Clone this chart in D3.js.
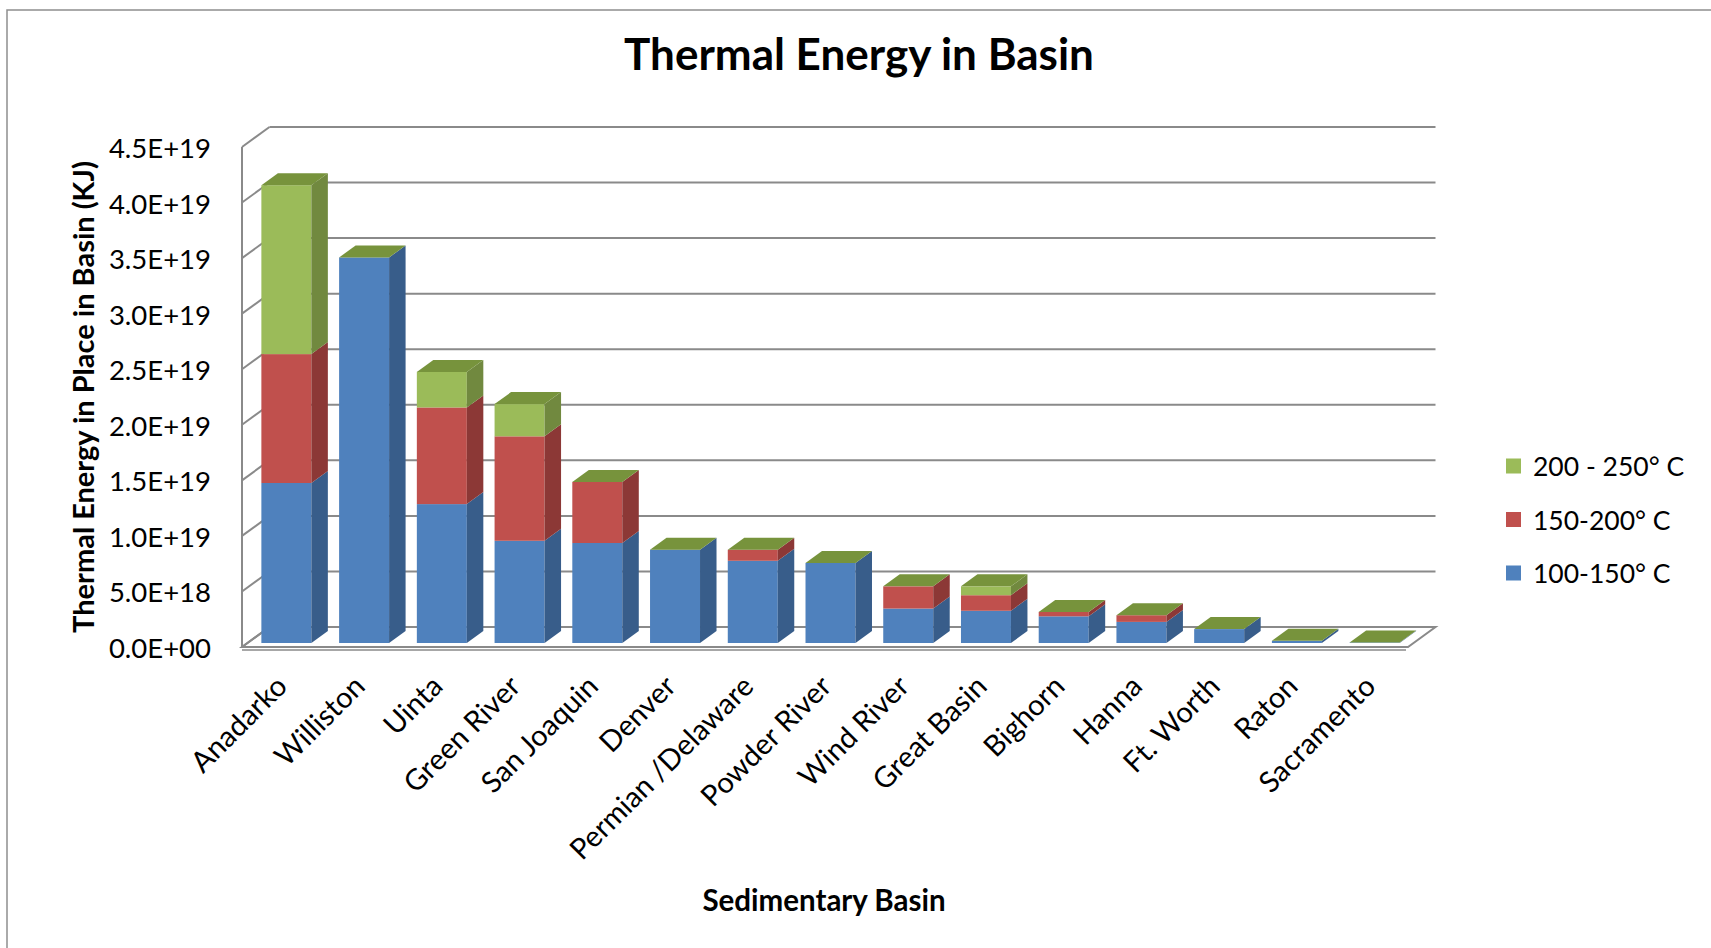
<!DOCTYPE html>
<html>
<head>
<meta charset="utf-8">
<title>Thermal Energy in Basin</title>
<script src="https://cdn.jsdelivr.net/npm/d3@7/dist/d3.min.js"></script>
<style>
  html, body { margin: 0; padding: 0; background: #ffffff; }
  svg { display: block; }
  text { font-family: "Lato", "Carlito", "Open Sans", sans-serif; fill: #000; }
</style>
</head>
<body>
<svg id="chart" width="1711" height="948"></svg>
<script>
// Sedimentary basins, in plotting order
const categories = ["Anadarko", "Williston", "Uinta", "Green River", "San Joaquin", "Denver",
  "Permian /Delaware", "Powder River", "Wind River", "Great Basin", "Bighorn", "Hanna",
  "Ft. Worth", "Raton", "Sacramento"];

// Thermal energy in place (KJ) for each temperature band
const temp100to150 = [1.44e19, 3.47e19, 1.25e19, 0.92e19, 0.90e19, 0.84e19, 0.74e19, 0.72e19,
  0.31e19, 0.29e19, 0.24e19, 0.19e19, 0.125e19, 0.02e19, 0.005e19];
const temp150to200 = [1.16e19, 0, 0.87e19, 0.94e19, 0.55e19, 0, 0.10e19, 0,
  0.20e19, 0.14e19, 0.04e19, 0.06e19, 0, 0, 0];
const temp200to250 = [1.52e19, 0, 0.32e19, 0.29e19, 0, 0, 0, 0,
  0, 0.08e19, 0, 0, 0, 0, 0];

const seriesNames = ["100-150° C", "150-200° C", "200 - 250° C"];

const yTicks = [0, 5e18, 1e19, 1.5e19, 2e19, 2.5e19, 3e19, 3.5e19, 4e19, 4.5e19];
const yTickLabels = ["0.0E+00", "5.0E+18", "1.0E+19", "1.5E+19", "2.0E+19", "2.5E+19",
  "3.0E+19", "3.5E+19", "4.0E+19", "4.5E+19"];

// ---- styling ----
const palette = [
  { front: "#4f81bd", side: "#385d8a", top: "#4a76ad" },
  { front: "#c0504d", side: "#8c3836", top: "#a94643" },
  { front: "#9bbb59", side: "#71893f", top: "#77933c" }
];
const gridColor = "#8a8a8a";
const fontFamily = '"Lato", "Carlito", "Open Sans", sans-serif';

const svg = d3.select("#chart");

// ---- plot geometry (oblique 3-D projection) ----
const frontLeft = 242, frontRight = 1408;
const depth = { x: 27.5, y: -20 };       // floor depth vector
const barDepth0 = 0.2, barDepth1 = 0.8;  // bars sit in the middle of the depth

const x = d3.scaleBand()
  .domain(categories)
  .range([frontLeft, frontRight])
  .paddingInner(0.357)
  .paddingOuter(0.1785);

const y = d3.scaleLinear()
  .domain([0, 4.5e19])
  .range([647, 147]);

// outer chart frame (left and top edges)
svg.append("path")
  .attr("d", `M7,948 L7,10 L1711,10`)
  .attr("fill", "none")
  .attr("stroke", "#8f8f8f")
  .attr("stroke-width", 1.5);

// ---- walls and gridlines ----
const walls = svg.append("g").attr("class", "walls")
  .attr("fill", "none").attr("stroke", gridColor).attr("stroke-width", 2);

// floor slab
const y0 = y(0);
walls.append("path")
  .attr("d", `M${frontLeft},${y0} L${frontRight},${y0} L${frontRight + depth.x},${y0 + depth.y} L${frontLeft + depth.x},${y0 + depth.y} Z`)
  .attr("fill", "#ffffff");
walls.append("line")
  .attr("x1", frontLeft).attr("x2", frontRight - 2)
  .attr("y1", y0 + 3).attr("y2", y0 + 3)
  .attr("stroke-width", 1.5);

// back-wall gridlines
walls.selectAll("line.grid")
  .data(yTicks)
  .join("line")
  .attr("class", "grid")
  .attr("x1", frontLeft + depth.x)
  .attr("x2", frontRight + depth.x)
  .attr("y1", d => y(d) + depth.y)
  .attr("y2", d => y(d) + depth.y);

// side-wall ticks
walls.selectAll("line.side")
  .data(yTicks)
  .join("line")
  .attr("class", "side")
  .attr("x1", frontLeft)
  .attr("x2", frontLeft + depth.x)
  .attr("y1", d => y(d))
  .attr("y2", d => y(d) + depth.y);

// side-wall front edge
walls.append("line")
  .attr("x1", frontLeft).attr("x2", frontLeft)
  .attr("y1", y(0)).attr("y2", y(4.5e19));

// ---- stacked 3-D columns ----
const table = categories.map((c, i) => ({
  category: c,
  [seriesNames[0]]: temp100to150[i],
  [seriesNames[1]]: temp150to200[i],
  [seriesNames[2]]: temp200to250[i]
}));
const stacked = d3.stack().keys(seriesNames)(table);

const off = { x: depth.x * barDepth0, y: depth.y * barDepth0 };
const sd = { x: depth.x * (barDepth1 - barDepth0), y: depth.y * (barDepth1 - barDepth0) };
const bw = x.bandwidth();

const bars = svg.append("g").attr("class", "bars");

categories.forEach((c, i) => {
  const g = bars.append("g");
  const xl = x(c) + off.x;
  const xr = xl + bw;
  stacked.forEach((layer, s) => {
    const [v0, v1] = layer[i];
    if (v1 - v0 <= 0) return;
    const yb = y(v0) + off.y;
    const yt = y(v1) + off.y;
    g.append("rect")
      .attr("x", xl).attr("y", yt)
      .attr("width", bw).attr("height", yb - yt)
      .attr("fill", palette[s].front);
    g.append("path")
      .attr("d", `M${xr},${yb} L${xr + sd.x},${yb + sd.y} L${xr + sd.x},${yt + sd.y} L${xr},${yt} Z`)
      .attr("fill", palette[s].side);
  });
  // top face takes the colour of the uppermost series
  const top = stacked[stacked.length - 1][i][1];
  const yt = y(top) + off.y;
  g.append("path")
    .attr("d", `M${xl},${yt} L${xl + sd.x},${yt + sd.y} L${xr + sd.x},${yt + sd.y} L${xr},${yt} Z`)
    .attr("fill", palette[2].top);
});

// ---- axes ----
const yAxis = svg.append("g")
  .attr("transform", `translate(${frontLeft - 31},0)`)
  .call(d3.axisLeft(y).tickValues(yTicks).tickFormat((d, i) => yTickLabels[i]).tickSize(0).tickPadding(0));
yAxis.select(".domain").remove();
yAxis.selectAll("text")
  .attr("font-family", fontFamily)
  .attr("font-size", 27.5)
  .attr("fill", "#000")
  .attr("dy", null)
  .attr("dominant-baseline", "central");

const xAxis = svg.append("g")
  .attr("transform", `translate(0,680)`)
  .call(d3.axisBottom(x).tickSize(0).tickPadding(0));
xAxis.select(".domain").remove();
xAxis.selectAll("text")
  .attr("font-family", fontFamily)
  .attr("font-size", 29)
  .attr("fill", "#000")
  .attr("x", 0).attr("y", 0).attr("dy", null)
  .attr("text-anchor", "end")
  .attr("dominant-baseline", "central")
  .attr("transform", "translate(0,0) rotate(-45)");

// ---- titles ----
svg.append("text")
  .attr("x", 859).attr("y", 70)
  .attr("text-anchor", "middle")
  .attr("font-size", 44)
  .attr("font-weight", "bold")
  .text("Thermal Energy in Basin");

svg.append("text")
  .attr("transform", "translate(82,397) rotate(-90)")
  .attr("text-anchor", "middle")
  .attr("dominant-baseline", "central")
  .attr("font-size", 29)
  .attr("font-weight", "bold")
  .text("Thermal Energy in Place in Basin (KJ)");

svg.append("text")
  .attr("x", 824).attr("y", 899)
  .attr("text-anchor", "middle")
  .attr("dominant-baseline", "central")
  .attr("font-size", 29.5)
  .attr("font-weight", "bold")
  .text("Sedimentary Basin");

// ---- legend (top entry is the uppermost series) ----
const legendItems = seriesNames.map((name, s) => ({ name, color: palette[s].front })).reverse();
const legend = svg.append("g").attr("transform", "translate(1506,466)");
const li = legend.selectAll("g")
  .data(legendItems)
  .join("g")
  .attr("transform", (d, i) => `translate(0,${i * 53.5})`);
li.append("rect")
  .attr("x", 0).attr("y", -7.5)
  .attr("width", 15).attr("height", 15)
  .attr("fill", d => d.color);
li.append("text")
  .attr("x", 27).attr("y", 0)
  .attr("dominant-baseline", "central")
  .attr("font-size", 26.5)
  .text(d => d.name);
</script>
</body>
</html>
